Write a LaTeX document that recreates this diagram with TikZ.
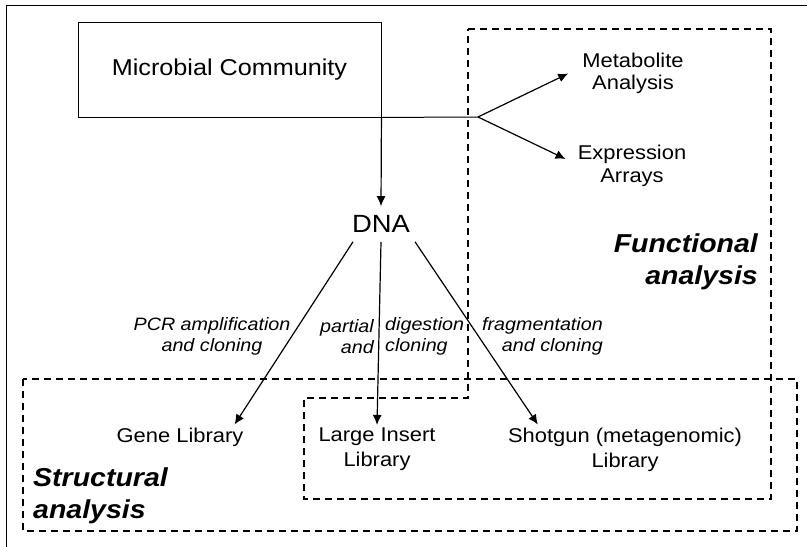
\documentclass[tikz,border=0pt]{standalone}
\usepackage{fontspec}
\setmainfont{Liberation Sans}[FakeStretch=1.1]
\usetikzlibrary{positioning,calc,arrows.meta}
\tikzstyle{sourceBox}  = [draw, line width=0.9bp, minimum width=303bp, minimum height=95bp, font=\fontsize{23}{27}\selectfont]
\tikzstyle{areaBorder} = [draw, line width=1.1bp, dash pattern=on 7bp off 5bp]
\tikzstyle{flow}       = [line width=1.2bp, ->]
\tikzstyle{target}     = [align=center, inner sep=3bp, font=\fontsize{20}{22.5}\selectfont]
\tikzstyle{library}    = [align=center, inner sep=3bp, font=\fontsize{20}{25}\selectfont]
\tikzstyle{method}     = [inner sep=0pt, font=\itshape\fontsize{18}{21}\selectfont]
\tikzstyle{areaTitle}  = [inner sep=0pt, font=\bfseries\itshape\fontsize{26}{32}\selectfont]
\tikzset{
  >={Latex[length=10bp,width=9bp]}
}
\begin{document}
\begin{tikzpicture}[x=1bp,y=-1bp]
			\useasboundingbox (0,0) rectangle (807,547);
			\draw[line width=1bp] (6,547) -- (6,6) -- (807,6);
			\draw[areaBorder] (468,29) -- (771,29) -- (771,499) -- (304,499) -- (304,398) -- (468,398) -- cycle;
			\draw[areaBorder] (23,379) rectangle (797,531);
			\node[areaTitle, align=right, anchor=east] (funcTitle)   at (758,262) {Functional\\analysis};
			\node[areaTitle, align=left, anchor=west]  (structTitle) at (33,496) {Structural\\analysis};
			\node[sourceBox] (community) at (229.5,69.5) {Microbial Community};
			\coordinate (fork) at (478,117);
			\node[target, inner xsep=14bp] (metab) at (633,73.5) {Metabolite\\Analysis};
			\node[target, inner xsep=14bp] (expr)  at (632,166) {Expression\\Arrays};
			\node[inner sep=9bp, font=\fontsize{25}{30}\selectfont] (dna) at (381,224) {DNA};
			\node[library] (gene)    at (180,437) {Gene Library};
			\node[library] (large)   at (377,449.5) {Large Insert\\Library};
			\node[library] (shotgun) at (625,449.5) {Shotgun (metagenomic)\\Library};
			\node[method, align=center]             (pcr)     at (212,336.5) {PCR amplification\\and cloning};
			\node[method, align=right, anchor=east] (partial) at (374,336.5) {partial\\and};
			\node[method, align=left, anchor=west]  (digest)  at (385,336.5) {digestion\\cloning};
			\node[method, align=right, anchor=east] (frag)    at (603,336.5) {fragmentation\\and cloning};
			\draw[line width=1bp] (community.south east) -- (fork);
			\draw[flow] (fork) -- (metab.west);
			\draw[flow] (fork) -- ([xshift=2bp,yshift=7bp]expr.west);
			\draw[flow] (community.south east) -- (dna.north);
			\draw[flow] ([xshift=-28bp]dna.south) -- ([xshift=-12bp]gene.north east);
			\draw[flow] (dna.south) -- (large.north);
			\draw[flow] ([xshift=34bp]dna.south) -- ([xshift=33bp]shotgun.north west);
		\end{tikzpicture}
\end{document}
